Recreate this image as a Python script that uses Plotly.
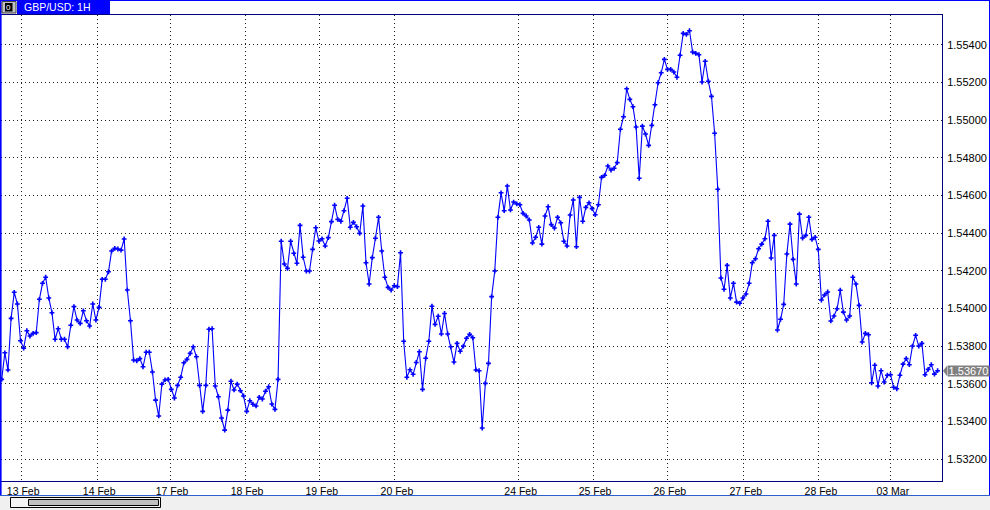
import plotly.graph_objects as go

# ---------------- data ----------------
symbol_title = "GBP/USD: 1H"
last_price = 1.53670

close_prices = [
    1.53624, 1.53765, 1.53674, 1.53948, 1.54086, 1.54024, 1.53829, 1.53790, 1.53882, 1.53854,
    1.53868, 1.53872, 1.54049, 1.54134, 1.54166, 1.54056, 1.53978, 1.53837, 1.53893, 1.53837,
    1.53837, 1.53797, 1.53911, 1.54010, 1.53939, 1.53921, 1.53988, 1.53935, 1.53907, 1.54024,
    1.53939, 1.54006, 1.54155, 1.54155, 1.54195, 1.54305, 1.54319, 1.54316, 1.54310, 1.54369,
    1.54098, 1.53935, 1.53727, 1.53723, 1.53734, 1.53691, 1.53768, 1.53768, 1.53663, 1.53514,
    1.53430, 1.53599, 1.53621, 1.53624, 1.53571, 1.53525, 1.53592, 1.53635, 1.53712, 1.53730,
    1.53762, 1.53797, 1.53744, 1.53592, 1.53454, 1.53592, 1.53890, 1.53893, 1.53589, 1.53532,
    1.53419, 1.53355, 1.53461, 1.53614, 1.53568, 1.53599, 1.53564, 1.53536, 1.53454,
    1.53511, 1.53492, 1.53483, 1.53529, 1.53520, 1.53561, 1.53585, 1.53493, 1.53465, 1.53624,
    1.54357, 1.54236, 1.54213, 1.54357, 1.54293, 1.54240, 1.54441, 1.54272, 1.54199, 1.54199,
    1.54314, 1.54429, 1.54358, 1.54370, 1.54332, 1.54376, 1.54461, 1.54548, 1.54473, 1.54463,
    1.54519, 1.54585, 1.54431, 1.54457, 1.54434, 1.54399, 1.54544, 1.54243, 1.54130, 1.54270,
    1.54373, 1.54484, 1.54305, 1.54166, 1.54112, 1.54098, 1.54121, 1.54116, 1.54296, 1.53826,
    1.53635, 1.53675, 1.53651, 1.53714, 1.53771, 1.53571, 1.53736, 1.53826, 1.54012, 1.53916,
    1.53959, 1.53865, 1.53974, 1.53865, 1.53797, 1.53716, 1.53815, 1.53773, 1.53801, 1.53842,
    1.53863, 1.53845, 1.53674, 1.53670, 1.53366, 1.53603, 1.53709, 1.54063, 1.54199, 1.54484,
    1.54614, 1.54519, 1.54650, 1.54523, 1.54565, 1.54555, 1.54551, 1.54505, 1.54491, 1.54470,
    1.54348, 1.54378, 1.54431, 1.54342, 1.54491, 1.54540, 1.54445, 1.54427, 1.54484, 1.54455,
    1.54357, 1.54332, 1.54496, 1.54576, 1.54328, 1.54590, 1.54463, 1.54537, 1.54561, 1.54530,
    1.54498, 1.54551, 1.54696, 1.54707, 1.54756, 1.54735, 1.54744, 1.54774, 1.54951, 1.55018,
    1.55166, 1.55110, 1.55071, 1.54963, 1.54691,
    1.54968, 1.54926, 1.54866, 1.54972, 1.55081, 1.55198, 1.55251, 1.55322, 1.55269, 1.55269,
    1.55255, 1.55227, 1.55344, 1.55460, 1.55455, 1.55474, 1.55361, 1.55354, 1.55347, 1.55202,
    1.55312, 1.55206, 1.55126, 1.54930, 1.54633, 1.54162, 1.54102, 1.54229, 1.54056, 1.54134,
    1.54034, 1.54028, 1.54056, 1.54077, 1.54134, 1.54243, 1.54264, 1.54317, 1.54342, 1.54370,
    1.54463, 1.54268, 1.54388, 1.53886,
    1.53943, 1.54022, 1.54289, 1.54448, 1.54261, 1.54130, 1.54501, 1.54374, 1.54388, 1.54484,
    1.54367, 1.54378, 1.54314, 1.54045, 1.54072, 1.54088, 1.53934, 1.53960, 1.53999, 1.54097,
    1.53981, 1.53939, 1.53960, 1.54166, 1.54130, 1.54017, 1.53822, 1.53868, 1.53861, 1.53606,
    1.53699, 1.53589, 1.53670, 1.53610, 1.53646, 1.53649, 1.53582, 1.53574, 1.53646, 1.53705,
    1.53734, 1.53702, 1.53801, 1.53858, 1.53801, 1.53815, 1.53649, 1.53677, 1.53702, 1.53652,
    1.53670,
]

date_labels = ["13 Feb", "14 Feb", "17 Feb", "18 Feb", "19 Feb", "20 Feb",
               "24 Feb", "25 Feb", "26 Feb", "27 Feb", "28 Feb", "03 Mar"]
date_bar_pos = [6.2, 30.4, 53.6, 77.5, 101.3, 125.2, 164.6, 188.3, 212.1, 236.3, 260.2, 283.1]

price_ticks = [1.532, 1.534, 1.536, 1.538, 1.540, 1.542, 1.544, 1.546, 1.548, 1.550, 1.552, 1.554]
price_tick_text = ["%.5f" % v for v in price_ticks]

bars = list(range(len(close_prices)))

# ---------------- layout geometry ----------------
W, H = 990, 510
L, R, T, B = 1, 942, 15, 481


def px(x):
    return (x - L) / (R - L)


def py(y):
    return (B - y) / (B - T)


BLUE = "#0000FF"
NAVY = "#000080"
FONT = "Liberation Sans"

fig = go.Figure()
fig.add_trace(go.Scatter(
    x=bars, y=close_prices, mode="lines+markers",
    line=dict(color=BLUE, width=1.1),
    marker=dict(symbol="cross", size=4, color=BLUE, line=dict(width=0)),
    hoverinfo="skip", showlegend=False,
))

shapes = []
# window borders
shapes.append(dict(type="line", xref="paper", yref="paper", x0=px(0), x1=px(990), y0=py(0.5), y1=py(0.5),
                   line=dict(color=BLUE, width=1)))
shapes.append(dict(type="line", xref="paper", yref="paper", x0=px(989.5), x1=px(989.5), y0=py(0), y1=py(495),
                   line=dict(color=BLUE, width=1)))
# bottom strip with scrollbar
shapes.append(dict(type="rect", xref="paper", yref="paper", x0=px(0), x1=px(990), y0=py(495.5), y1=py(511),
                   fillcolor="#F0F0F0", line=dict(width=0), layer="above"))
shapes.append(dict(type="line", xref="paper", yref="paper", x0=px(0), x1=px(990), y0=py(495.5), y1=py(495.5),
                   line=dict(color="#3060D0", width=1)))
shapes.append(dict(type="rect", xref="paper", yref="paper", x0=px(10.5), x1=px(160.5), y0=py(497.5), y1=py(507.5),
                   fillcolor="#F4F4F4", line=dict(color="#000000", width=1)))
shapes.append(dict(type="rect", xref="paper", yref="paper", x0=px(28.5), x1=px(158.5), y0=py(499.5), y1=py(505.5),
                   fillcolor="#C0C0C0", line=dict(color="#000000", width=1)))
# left window border
shapes.append(dict(type="line", xref="paper", yref="paper", x0=px(0.8), x1=px(0.8), y0=py(0), y1=py(495),
                   line=dict(color=BLUE, width=1.6)))
# title tab
shapes.append(dict(type="rect", xref="paper", yref="paper", x0=px(17), x1=px(110), y0=py(0), y1=py(14),
                   fillcolor=BLUE, line=dict(width=0)))
# icon
shapes.append(dict(type="rect", xref="paper", yref="paper", x0=px(2), x1=px(16), y0=py(1.5), y1=py(13),
                   fillcolor="#C0C0C0", line=dict(color="#404040", width=1)))
shapes.append(dict(type="rect", xref="paper", yref="paper", x0=px(5), x1=px(12.5), y0=py(3), y1=py(11.5),
                   fillcolor="#000000", line=dict(width=0)))
# current price pointer
shapes.append(dict(type="path", xref="paper", yref="paper",
                   path="M %f %f L %f %f L %f %f Z" % (px(943), py(370.8), px(947), py(365.7), px(947), py(376)),
                   fillcolor="#808080", line=dict(width=0)))

annotations = [
    dict(text=symbol_title, xref="paper", yref="paper", x=px(22), y=py(7.3), xanchor="left", yanchor="middle",
         showarrow=False, font=dict(family=FONT, size=10.5, color="#FFFFFF")),
    dict(text="0", xref="paper", yref="paper", x=px(8.8), y=py(7.3), xanchor="center", yanchor="middle",
         showarrow=False, font=dict(family=FONT, size=8, color="#FFFFFF")),
    dict(text="%.5f" % last_price, xref="paper", yref="y", x=px(946.5), y=last_price, xanchor="left",
         yanchor="middle", showarrow=False, bgcolor="#808080", borderpad=0, width=41, height=10,
         font=dict(family=FONT, size=11, color="#FFFFFF")),
]

fig.update_layout(
    width=W, height=H,
    margin=dict(l=L, r=W - R, t=T, b=H - B, pad=0),
    paper_bgcolor="#FFFFFF", plot_bgcolor="#FFFFFF",
    font=dict(family=FONT, size=11, color="#000000"),
    shapes=shapes, annotations=annotations,
    xaxis=dict(
        range=[-0.22, 299.4], tickmode="array", tickvals=date_bar_pos, ticktext=date_labels,
        showgrid=True, gridcolor="#202020", gridwidth=1, griddash="1px,3px",
        showline=True, mirror=True, linecolor=NAVY, linewidth=1,
        ticks="", zeroline=False, tickfont=dict(family=FONT, size=10.5, color="#000000"),
        ticklabelshift=2, ticklabelstandoff=0,
    ),
    yaxis=dict(
        range=[1.530848, 1.555576], side="right", tickmode="array", tickvals=price_ticks,
        ticktext=price_tick_text,
        showgrid=True, gridcolor="#202020", gridwidth=1, griddash="1px,3px",
        showline=True, mirror=True, linecolor=NAVY, linewidth=1,
        ticks="", zeroline=False, tickfont=dict(family=FONT, size=11, color="#000000"),
        ticklabelstandoff=2,
    ),
)

fig.write_html("out.html", config={"displayModeBar": False},
               post_script="document.body.style.margin='0';document.body.style.padding='0';")
